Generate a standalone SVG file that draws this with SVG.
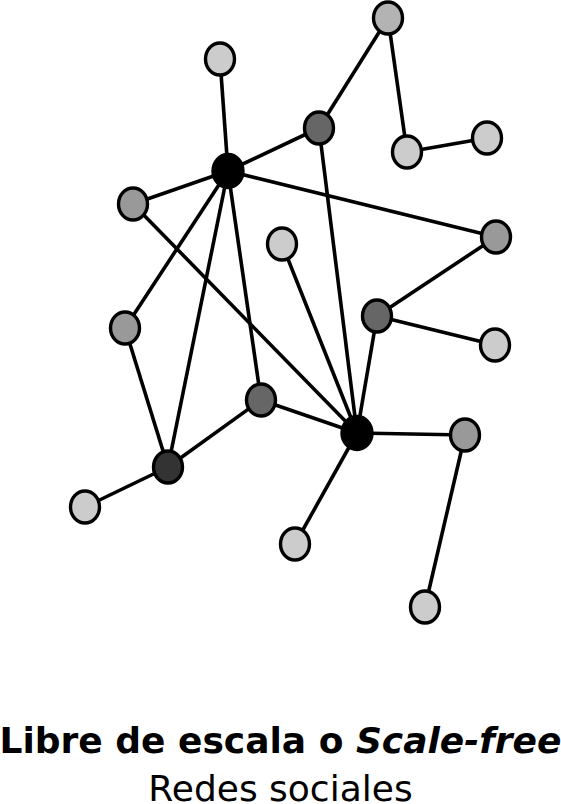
<svg xmlns="http://www.w3.org/2000/svg" width="561" height="804" viewBox="0 0 561 804">
<style>
.e{stroke:#000;stroke-width:3.6;fill:none}
.n{stroke:#000;stroke-width:3.4}
.l{fill:#ccc}.m{fill:#b3b3b3}.g{fill:#999}.d{fill:#666}.v{fill:#333}.k{fill:#000}
text{font-family:"DejaVu Sans",sans-serif;font-size:36px;text-anchor:middle}
</style>
<rect width="561" height="804" fill="#fff"/>
<g id="edges">
<line class="e" x1="388" y1="18" x2="319" y2="128"/>
<line class="e" x1="388" y1="18" x2="407" y2="152"/>
<line class="e" x1="407" y1="152" x2="487" y2="138"/>
<line class="e" x1="220" y1="59" x2="228" y2="171"/>
<line class="e" x1="319" y1="128" x2="228" y2="171"/>
<line class="e" x1="319" y1="128" x2="357" y2="433"/>
<line class="e" x1="228" y1="171" x2="133" y2="204"/>
<line class="e" x1="228" y1="171" x2="496" y2="237"/>
<line class="e" x1="228" y1="171" x2="125" y2="328"/>
<line class="e" x1="228" y1="171" x2="168" y2="467"/>
<line class="e" x1="228" y1="171" x2="261" y2="400"/>
<line class="e" x1="133" y1="204" x2="357" y2="433"/>
<line class="e" x1="496" y1="237" x2="377" y2="316"/>
<line class="e" x1="377" y1="316" x2="495" y2="345"/>
<line class="e" x1="377" y1="316" x2="357" y2="433"/>
<line class="e" x1="282" y1="244" x2="357" y2="433"/>
<line class="e" x1="125" y1="328" x2="168" y2="467"/>
<line class="e" x1="168" y1="467" x2="261" y2="400"/>
<line class="e" x1="168" y1="467" x2="85" y2="507"/>
<line class="e" x1="261" y1="400" x2="357" y2="433"/>
<line class="e" x1="357" y1="433" x2="465" y2="435"/>
<line class="e" x1="357" y1="433" x2="295" y2="544"/>
<line class="e" x1="465" y1="435" x2="425" y2="607"/>
</g>
<g id="n1"><ellipse class="n m" cx="388" cy="18" rx="14.5" ry="16"/></g>
<g id="n2"><ellipse class="n l" cx="220" cy="59" rx="14.5" ry="16"/></g>
<g id="n3"><ellipse class="n d" cx="319" cy="128" rx="14.5" ry="16"/></g>
<g id="n4"><ellipse class="n l" cx="407" cy="152" rx="14.5" ry="16"/></g>
<g id="n5"><ellipse class="n l" cx="487" cy="138" rx="14.5" ry="16"/></g>
<g id="n6"><ellipse class="n k" cx="228" cy="171" rx="15" ry="16.5"/></g>
<g id="n7"><ellipse class="n g" cx="133" cy="204" rx="14.5" ry="16"/></g>
<g id="n8"><ellipse class="n g" cx="496" cy="237" rx="14.5" ry="16"/></g>
<g id="n9"><ellipse class="n l" cx="282" cy="244" rx="14.5" ry="16"/></g>
<g id="n10"><ellipse class="n d" cx="377" cy="316" rx="14.5" ry="16"/></g>
<g id="n11"><ellipse class="n l" cx="495" cy="345" rx="14.5" ry="16"/></g>
<g id="n12"><ellipse class="n g" cx="125" cy="328" rx="14.5" ry="16"/></g>
<g id="n13"><ellipse class="n d" cx="261" cy="400" rx="14.5" ry="16"/></g>
<g id="n14"><ellipse class="n k" cx="357" cy="433" rx="15" ry="16.5"/></g>
<g id="n15"><ellipse class="n g" cx="465" cy="435" rx="14.5" ry="16"/></g>
<g id="n16"><ellipse class="n v" cx="168" cy="467" rx="14.5" ry="16"/></g>
<g id="n17"><ellipse class="n l" cx="85" cy="507" rx="14.5" ry="16"/></g>
<g id="n18"><ellipse class="n l" cx="295" cy="544" rx="14.5" ry="16"/></g>
<g id="n19"><ellipse class="n l" cx="425" cy="607" rx="14.5" ry="16"/></g>
<g id="caption">
<text x="280.5" y="753" font-weight="bold">Libre de escala o <tspan font-style="italic">Scale-free</tspan></text>
<text x="280.5" y="801">Redes sociales</text>
</g>
</svg>
